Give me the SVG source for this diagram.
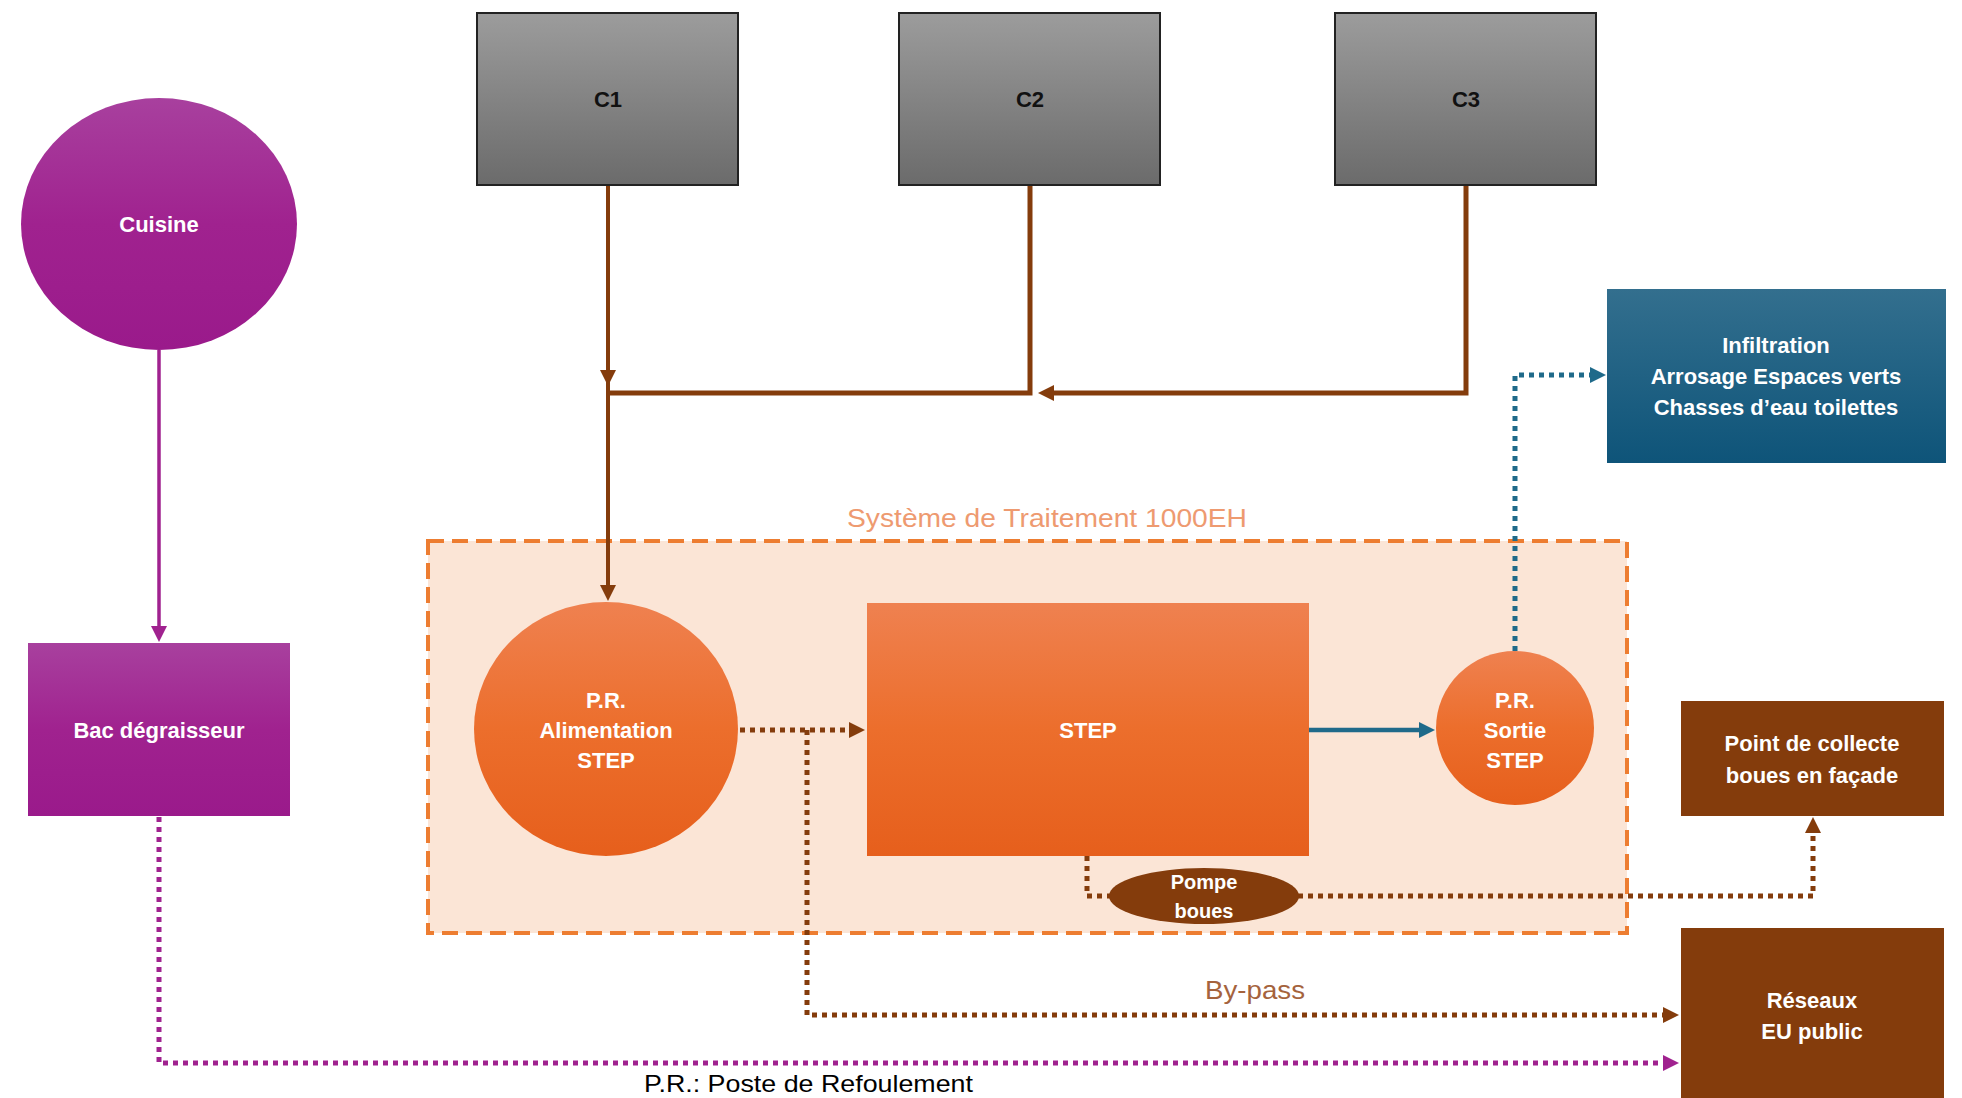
<svg xmlns="http://www.w3.org/2000/svg" width="1962" height="1098" viewBox="0 0 1962 1098">
<defs>
<linearGradient id="gPurple" x1="0" y1="0" x2="0" y2="1"><stop offset="0" stop-color="#A8409E"/><stop offset="0.5" stop-color="#A0228F"/><stop offset="1" stop-color="#9A1A8B"/></linearGradient>
<linearGradient id="gGray" x1="0" y1="0" x2="0" y2="1"><stop offset="0" stop-color="#9C9C9C"/><stop offset="1" stop-color="#6B6B6B"/></linearGradient>
<linearGradient id="gOrange" x1="0" y1="0" x2="0" y2="1"><stop offset="0" stop-color="#EF8150"/><stop offset="0.5" stop-color="#EC6E2C"/><stop offset="1" stop-color="#E65F1C"/></linearGradient>
<linearGradient id="gBlue" x1="0" y1="0" x2="0" y2="1"><stop offset="0" stop-color="#336F8E"/><stop offset="1" stop-color="#0E5479"/></linearGradient>
<marker id="aBrown" viewBox="0 0 10 10" refX="5" refY="5" markerWidth="18" markerHeight="16" markerUnits="userSpaceOnUse" orient="auto"><path d="M0,0 L10,5 L0,10 z" fill="#843C0C"/></marker>
<marker id="aPurple" viewBox="0 0 10 10" refX="5" refY="5" markerWidth="18" markerHeight="16" markerUnits="userSpaceOnUse" orient="auto"><path d="M0,0 L10,5 L0,10 z" fill="#A0228F"/></marker>
<marker id="aBlue" viewBox="0 0 10 10" refX="5" refY="5" markerWidth="18" markerHeight="16" markerUnits="userSpaceOnUse" orient="auto"><path d="M0,0 L10,5 L0,10 z" fill="#1F6A8A"/></marker>
<style>
.lbl{font-family:"Liberation Sans",Arial,sans-serif;font-weight:bold;font-size:22px;fill:#fff;text-anchor:middle;dominant-baseline:central}
.dark{fill:#111}
.solid{fill:none;stroke-linejoin:miter}
.dot{fill:none;stroke-width:5;stroke-dasharray:5 5}
.cb{stroke:#843C0C}
.cp{stroke:#A0228F}
.cbl{stroke:#1F6A8A}
</style>
</defs>
<rect width="1962" height="1098" fill="#fff"/>

<g id="systeme">
<rect x="428" y="541" width="1199" height="392" fill="#FBE5D6" stroke="#ED7D31" stroke-width="4" stroke-dasharray="16 8"/>
<text x="1047" y="527" font-family="Liberation Sans, Arial, sans-serif" font-size="25" fill="#EE9A70" text-anchor="middle" textLength="400" lengthAdjust="spacingAndGlyphs">Système de Traitement 1000EH</text>
</g>

<g id="connectors">
<path class="solid cp" stroke-width="3.5" d="M159,350 V634" marker-end="url(#aPurple)"/>
<path class="solid cb" stroke-width="4" d="M608,185 V378" marker-end="url(#aBrown)"/>
<path class="solid cb" stroke-width="4" d="M608,378 V593" marker-end="url(#aBrown)"/>
<path class="solid cb" stroke-width="5" d="M1466,185 V393 H1046" marker-end="url(#aBrown)"/>
<path class="solid cb" stroke-width="5" d="M1030,185 V393 H608"/>
<path class="dot cb" d="M740,730 H857" marker-end="url(#aBrown)"/>
<path class="dot cb" d="M807,730 V1015 H1671" marker-end="url(#aBrown)"/>
<path class="dot cb" d="M1087,856 V896 H1110"/>
<path class="dot cb" d="M1298,896 H1813 V825" marker-end="url(#aBrown)"/>
<path class="solid cbl" stroke-width="4.5" d="M1309,730 H1427" marker-end="url(#aBlue)"/>
<path class="dot cbl" d="M1515,651 V375 H1598" marker-end="url(#aBlue)"/>
<path class="dot cp" d="M159,817 V1063 H1671" marker-end="url(#aPurple)"/>
</g>

<g id="cuisine">
<ellipse cx="159" cy="224" rx="138" ry="126" fill="url(#gPurple)"/>
<text class="lbl" x="159" y="224">Cuisine</text>
</g>

<g id="bac">
<rect x="28" y="643" width="262" height="173" fill="url(#gPurple)"/>
<text class="lbl" x="159" y="730">Bac dégraisseur</text>
</g>

<g id="c1">
<rect x="477" y="13" width="261" height="172" fill="url(#gGray)" stroke="#222" stroke-width="2"/>
<text class="lbl dark" x="608" y="99">C1</text>
</g>
<g id="c2">
<rect x="899" y="13" width="261" height="172" fill="url(#gGray)" stroke="#222" stroke-width="2"/>
<text class="lbl dark" x="1030" y="99">C2</text>
</g>
<g id="c3">
<rect x="1335" y="13" width="261" height="172" fill="url(#gGray)" stroke="#222" stroke-width="2"/>
<text class="lbl dark" x="1466" y="99">C3</text>
</g>

<g id="infiltration">
<rect x="1607" y="289" width="339" height="174" fill="url(#gBlue)"/>
<text class="lbl" x="1776" y="345">Infiltration</text>
<text class="lbl" x="1776" y="376">Arrosage Espaces verts</text>
<text class="lbl" x="1776" y="407">Chasses d’eau toilettes</text>
</g>

<g id="pr-alimentation">
<ellipse cx="606" cy="729" rx="132" ry="127" fill="url(#gOrange)"/>
<text class="lbl" x="606" y="700">P.R.</text>
<text class="lbl" x="606" y="730">Alimentation</text>
<text class="lbl" x="606" y="760">STEP</text>
</g>

<g id="step">
<rect x="867" y="603" width="442" height="253" fill="url(#gOrange)"/>
<text class="lbl" x="1088" y="730">STEP</text>
</g>

<g id="pr-sortie">
<ellipse cx="1515" cy="728" rx="79" ry="77" fill="url(#gOrange)"/>
<text class="lbl" x="1515" y="700">P.R.</text>
<text class="lbl" x="1515" y="730">Sortie</text>
<text class="lbl" x="1515" y="760">STEP</text>
</g>

<g id="pompe">
<ellipse cx="1204" cy="896" rx="95" ry="28" fill="#843C0C"/>
<text class="lbl" x="1204" y="882" style="font-size:20px">Pompe</text>
<text class="lbl" x="1204" y="911" style="font-size:20px">boues</text>
</g>

<g id="point-collecte">
<rect x="1681" y="701" width="263" height="115" fill="#843C0C"/>
<text class="lbl" x="1812" y="743">Point de collecte</text>
<text class="lbl" x="1812" y="775">boues en façade</text>
</g>

<g id="reseaux">
<rect x="1681" y="928" width="263" height="175" fill="#843C0C"/>
<text class="lbl" x="1812" y="1000">Réseaux</text>
<text class="lbl" x="1812" y="1031">EU public</text>
</g>

<text x="1255" y="999" font-family="Liberation Sans, Arial, sans-serif" font-size="25" fill="#A5633D" text-anchor="middle" textLength="100" lengthAdjust="spacingAndGlyphs">By-pass</text>
<text x="644" y="1092" font-family="Liberation Sans, Arial, sans-serif" font-size="24" fill="#000" textLength="329" lengthAdjust="spacingAndGlyphs">P.R.: Poste de Refoulement</text>
</svg>
